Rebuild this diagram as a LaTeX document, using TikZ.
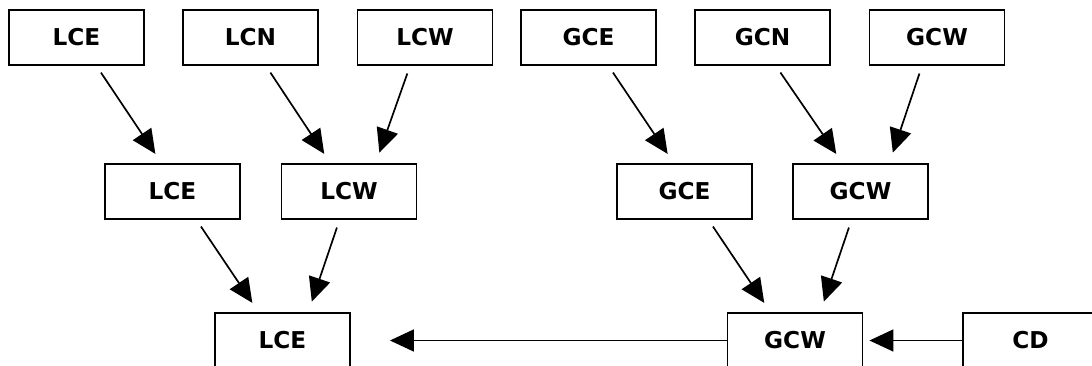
\documentclass[tikz,border=0pt]{standalone}
\usepackage{fontspec}
\setmainfont{DejaVu Sans}
\usetikzlibrary{arrows.meta,calc}
\begin{document}
\begin{tikzpicture}[>={Triangle[length=6mm,width=5.5mm]},x=0.25mm,y=-0.25mm,line width=1.2pt,
        box/.style={draw,minimum width=33.8mm,minimum height=13.8mm,inner sep=0pt,font=\bfseries\fontsize{16.5}{19}\selectfont},
        link/.style={->,shorten <=2mm,shorten >=2.75mm}]
                %\draw [help lines,xstep=50,ystep=50] (0,0) grid (1092,366);
                \useasboundingbox (0,0) rectangle (1092,366);
                \foreach \n/\t/\x/\y in {lceA/LCE/76.5/37.5, lcnA/LCN/250.5/37.5, lcwA/LCW/425/37.5,
                    gceA/GCE/588.5/37.5, gcnA/GCN/762.5/37.5, gcwA/GCW/937/37.5,
                    lceB/LCE/172.5/191.5, lcwB/LCW/349/191.5, gceB/GCE/684.5/191.5, gcwB/GCW/860.5/191.5,
                    lceC/LCE/282.5/340.5, gcwC/GCW/795/340.5, cd/CD/1030.5/340.5}
                \node[box] (\n) at (\x,\y) {\t};
                \foreach \a/\sa/\b/\sb in {lceA/20/lceB/-11, lcnA/15.5/lcwB/-18.7, lcwA/-15/lcwB/26.7,
                    lceB/24/lceC/-24, lcwB/-9.5/lceC/25.8,
                    gceA/20/gceB/-10.7, gcnA/13.4/gcwB/-18, gcwA/-15/gcwB/28.8,
                    gceB/24/gcwC/-24.6, gcwB/-9/gcwC/25.3}
                \draw[link] ($(\a.south)+(\sa,0)$) -- ($(\b.north)+(\sb,0)$);
                \draw[->,shorten >=9.75mm] (gcwC) -- (lceC);
                \draw[->,shorten >=1.5mm] (cd) -- (gcwC);
            \end{tikzpicture}
\end{document}
